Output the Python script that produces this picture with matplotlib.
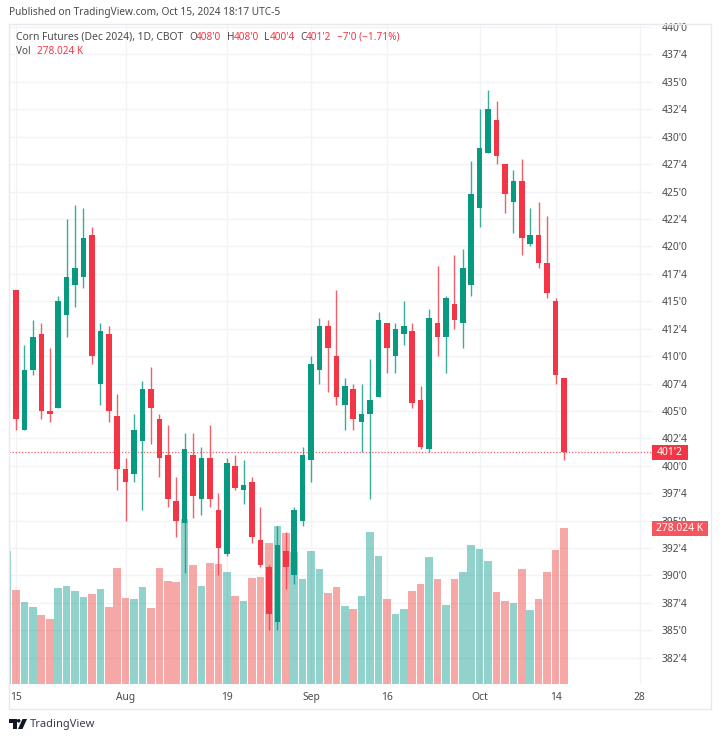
import matplotlib
matplotlib.use("Agg")
import matplotlib.pyplot as plt
import numpy as np
import pandas as pd
from matplotlib.patches import Rectangle, Polygon, Circle

plt.rcParams['font.family'] = ['Noto Sans', 'DejaVu Sans']

# trading days, Labor Day is closed. The future ones only carry the last tick
days = pd.bdate_range('2024-07-12', '2024-11-01').drop(pd.Timestamp('2024-09-02'))

opens = [410.25, 416, 403.25, 408.75, 412, 405, 405.25, 413.75, 416.5, 417.25, 421, 407.5,
         412, 404.5, 399.75, 399.25, 402.25, 407, 404.25, 401, 396.75, 394.75, 401, 397,
         400.75, 396, 392, 400, 397.75, 398.5, 393.25, 390.75, 385.75, 392.25, 390, 395,
         400.5, 408.75, 412.75, 410, 405.5, 407, 404, 404.75, 406.25, 413, 410, 412,
         412.25, 406, 401.5, 413, 411.75, 414.75, 413, 416.5, 423.5, 428.5, 431.5, 427.5,
         424, 426, 420.25, 421, 418.5, 415, 408]
highs = [414.75, 416, 411, 413.25, 413, 410.75, 415.5, 422.5, 423.75, 423.5, 421.75, 413,
         412.75, 406.5, 400.75, 404.75, 407.75, 409, 404.75, 403.75, 399, 403, 403, 401.75,
         403.75, 397.5, 400.75, 401, 400.5, 399, 396.25, 391, 394.5, 394, 396.25, 401.75,
         410, 413.5, 413.25, 416, 408, 407.5, 407.5, 409.75, 414, 413, 413, 415,
         413, 407.25, 414.25, 418.25, 415.5, 419.25, 419.75, 427.75, 432.5, 434.25, 433.25, 427.5,
         427, 428, 423.5, 424, 422.75, 415.25, 408]
lows = [410.25, 403.25, 403.25, 408.25, 404.25, 404, 405.25, 411.75, 414.5, 416.25, 409.25, 405.5,
        404, 397.75, 395, 398.5, 396, 402, 399, 396.25, 393.5, 390.25, 395.25, 395.5,
        396.25, 390, 391.75, 397.75, 396.5, 393, 390.75, 385, 385, 388.75, 389.25, 394.5,
        398.5, 407.5, 406.75, 405.5, 403.25, 403.25, 401.25, 397, 406.25, 408.5, 408.5, 411,
        405.25, 401.5, 401.25, 410, 408.5, 412.5, 410.75, 415.5, 421.75, 428.5, 427.5, 423,
        421.25, 419.25, 420, 418, 415.25, 407.5, 400.5]
closes = [414.75, 404.25, 408.75, 411.75, 405, 404.75, 415, 417.25, 418, 420.75, 410, 412.25,
          405, 399.75, 398.5, 403.25, 407, 405.25, 400.75, 397, 395, 401.5, 397.25, 400.75,
          397, 392.5, 400.25, 398, 398.25, 393.5, 391, 386.5, 392.75, 390.75, 396, 401,
          409.25, 412.75, 410.75, 406.25, 407.25, 404.25, 404.75, 406, 413.25, 410.75, 412.5, 412.75,
          405.75, 401.75, 413.5, 411.75, 415.25, 413.25, 418, 424.75, 429, 432.5, 428.25, 424.75,
          426, 420.75, 421, 418.5, 415.75, 408.25, 401.25]
volumes = [237, 167.5, 146, 137, 123, 116, 171, 175, 166, 155, 160, 169,
           137, 207, 153, 151, 173, 135, 207, 184, 182, 294, 212, 175,
           216, 214, 200, 157, 148, 189, 191, 251, 282, 269, 235, 187,
           237, 205, 162, 173, 139, 134, 157, 271, 228, 151, 125, 134,
           166, 178, 226, 187, 141, 187, 200, 248, 241, 219, 164, 148,
           144, 205, 132, 151, 200, 239, 278.024]

price_ticks = [382.5, 385, 387.5, 390, 392.5, 395, 397.5, 400, 402.5, 405, 407.5, 410,
               412.5, 415, 417.5, 420, 422.5, 425, 427.5, 430, 432.5, 435, 437.5, 440]
price_labels = ["382'4", "385'0", "387'4", "390'0", "392'4", "395'0", "397'4", "400'0",
                "402'4", "405'0", "407'4", "410'0", "412'4", "415'0", "417'4", "420'0",
                "422'4", "425'0", "427'4", "430'0", "432'4", "435'0", "437'4", "440'0"]
date_ticks = ['2024-07-15', '2024-08-01', '2024-08-19', '2024-09-03',
              '2024-09-16', '2024-10-01', '2024-10-14', '2024-10-28']
date_labels = ['15', 'Aug', '19', 'Sep', '16', 'Oct', '14', '28']
month_labels = ['Aug', 'Sep', 'Oct']

GREEN = '#089981'
RED = '#F23645'
VOL_GREEN = '#26a69a'
VOL_RED = '#ef5350'
GRID = '#f2f3f6'
TEXT = '#4a4a4a'

W, H = 720, 740
fig = plt.figure(figsize=(W / 100, H / 100), dpi=100, facecolor='white')


def px_axes(left, top, right, bottom, z):
    return fig.add_axes([left / W, 1 - bottom / H, (right - left) / W, (bottom - top) / H], zorder=z)


x = np.arange(len(opens))
o = np.array(opens)
c = np.array(closes)
up = c >= o
colors = [GREEN if u else RED for u in up]
vol_colors = [VOL_GREEN if u else VOL_RED for u in up]

# bottom layer carries the grid and the tick labels
ax = px_axes(9, 24, 652, 684, 1)
ax.set_xlim(0.17, 76.44)
ax.set_ylim(380.11, 440.27)
ax.set_yticks(price_ticks)
ax.set_yticklabels(price_labels)
ax.yaxis.tick_right()
ax.set_xticks([days.get_loc(pd.Timestamp(d)) for d in date_ticks])
ax.set_xticklabels(date_labels)
ax.tick_params(axis='both', length=0, labelsize=7.4, labelcolor=TEXT)
ax.tick_params(axis='y', pad=7)
ax.tick_params(axis='x', pad=6)
for lab in ax.get_xticklabels():
    if lab.get_text() in month_labels:
        lab.set_fontweight('bold')
ax.grid(True, color=GRID, lw=1)
ax.set_axisbelow(True)
for s in ax.spines.values():
    s.set_visible(False)

vol_ax = px_axes(9, 24, 652, 684, 2)
vol_ax.set_xlim(ax.get_xlim())
vol_ax.set_ylim(0, 1176)
vol_ax.bar(x, volumes, width=0.9, color=vol_colors, alpha=0.5, linewidth=0)
vol_ax.axis('off')

candle_ax = px_axes(9, 24, 652, 684, 3)
candle_ax.set_xlim(ax.get_xlim())
candle_ax.set_ylim(ax.get_ylim())
candle_ax.vlines(x, lows, highs, colors=colors, lw=1, alpha=0.8, zorder=2)
candle_ax.bar(x, np.maximum(np.abs(c - o), 0.1), bottom=np.minimum(o, c), width=0.66,
              color=colors, linewidth=0, zorder=3)
candle_ax.axhline(closes[-1], color=RED, lw=0.9, ls=(0, (1, 1.5)), alpha=0.8, zorder=1)
candle_ax.axis('off')

# overlay in pixels for the frame, header and price boxes
over = fig.add_axes([0, 0, 1, 1], zorder=5)
over.set_xlim(0, W)
over.set_ylim(H, 0)
over.axis('off')
over.add_patch(Rectangle((652, 0), 68, 23, color='white', lw=0))
over.add_patch(Rectangle((8.5, 23.5), 702.5, 685.5, fill=False, ec='#e6e9f0', lw=1))

over.text(9, 13, 'Published on TradingView.com, Oct 15, 2024 18:17 UTC-5', fontsize=7.3,
          color=TEXT, va='center')
over.text(16, 37, 'Corn Futures (Dec 2024), 1D, CBOT', fontsize=7.4, color=TEXT, va='center')
for xp, s in zip([189, 227, 264, 300], 'OHLC'):
    over.text(xp, 37, s, fontsize=7.2, color=TEXT, va='center')
for xp, s in zip([196, 234, 270, 306, 337], ["408'0", "408'0", "400'4", "401'2", "−7'0 (−1.71%)"]):
    over.text(xp, 37, s, fontsize=7.2, color=RED, va='center')
over.text(16, 52, 'Vol', fontsize=7.2, color=TEXT, va='center')
over.text(37, 52, '278.024 K', fontsize=7.2, color=RED, va='center')

over.add_patch(Rectangle((652, 445), 36, 15, color=RED, lw=0))
over.text(670, 452.5, "401'2", fontsize=7.4, color='white', ha='center', va='center')
over.add_patch(Rectangle((652, 521), 56, 15, color='#F5565E', lw=0))
over.text(680, 528.5, '278.024 K', fontsize=7.4, color='white', ha='center', va='center')

# TradingView mark
over.add_patch(Polygon([(9, 719), (16.5, 719), (16.5, 729), (12.5, 729), (12.5, 722.5), (9, 722.5)],
                       color='#131722', lw=0))
over.add_patch(Circle((18.7, 720.8), 1.8, color='#131722', lw=0))
over.add_patch(Polygon([(22.5, 719), (27, 719), (22.5, 729), (18, 729)], color='#131722', lw=0))
over.text(30, 724.5, 'TradingView', fontsize=8, color='#3a3e4a', va='center')

fig.savefig('out.png', dpi=100)
